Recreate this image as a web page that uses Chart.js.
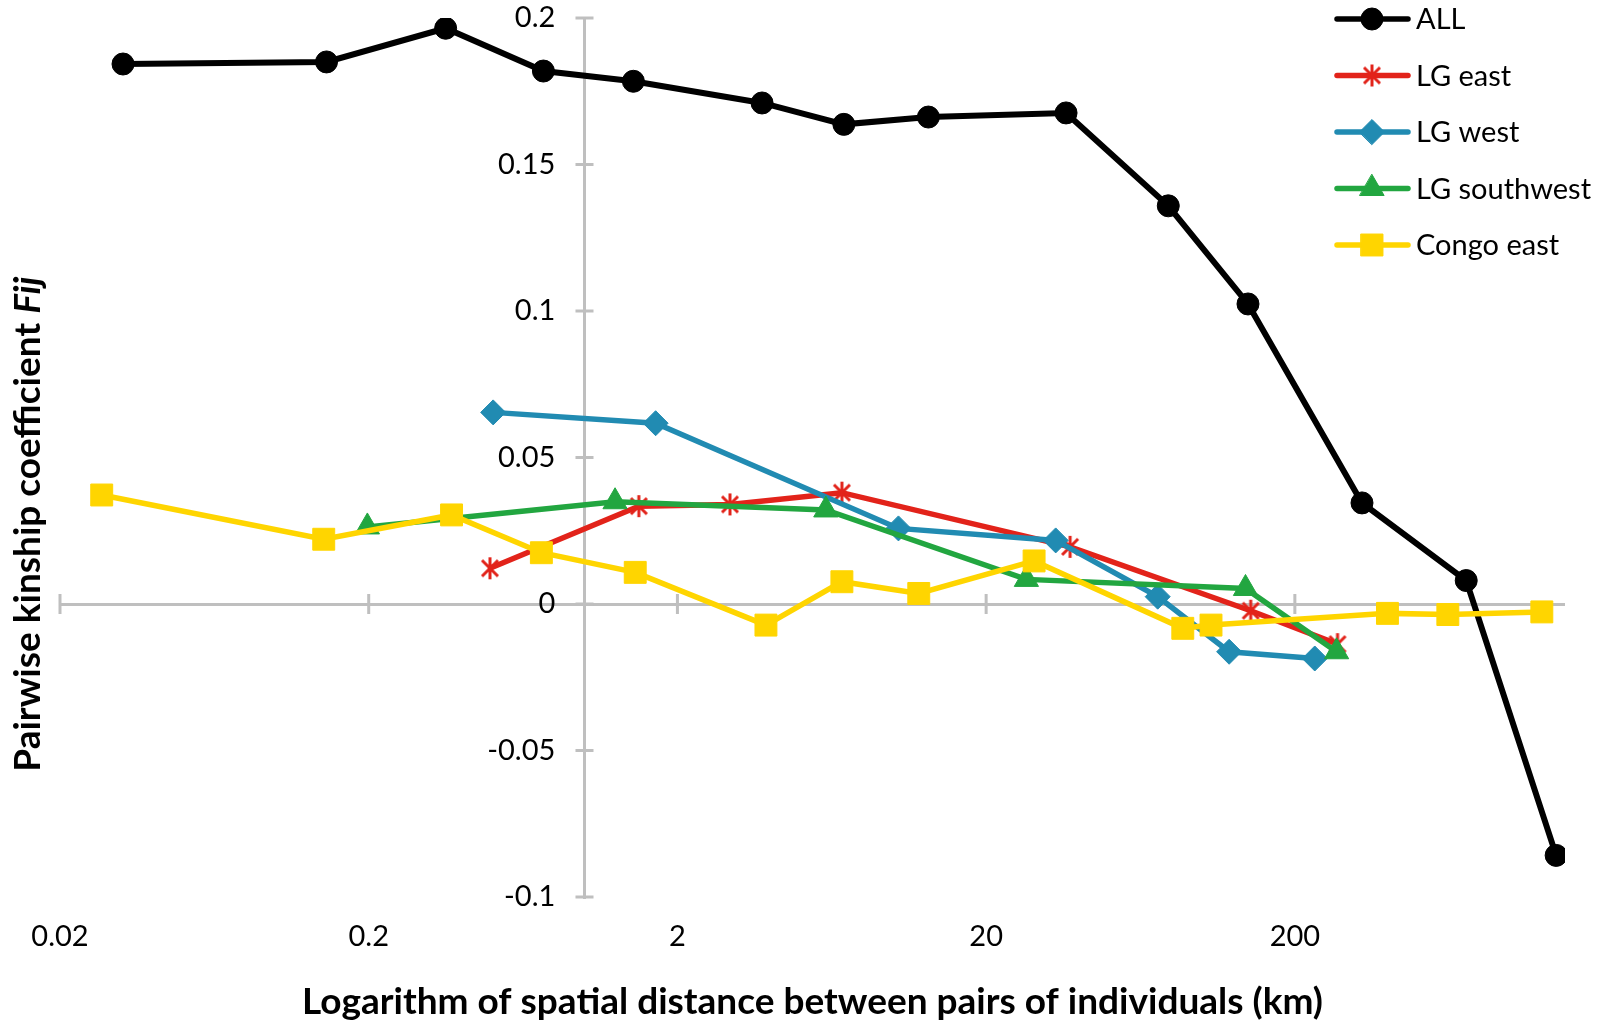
<!DOCTYPE html>
<html>
<head>
<meta charset="utf-8">
<script src="https://cdn.jsdelivr.net/npm/chart.js@4.4.0/dist/chart.umd.min.js"></script>
<style>
  html, body { margin: 0; padding: 0; background: #fff; }
</style>
</head>
<body>
<canvas id="myChart" width="1600" height="1024"></canvas>
<script>
// distance classes (km) and kinship values
const xTickValues = [0.02, 0.2, 2, 20, 200];

const distAll = [0.032, 0.146, 0.355, 0.736, 1.44, 3.76, 6.92, 13.0, 36.3, 77.8, 141, 330, 718, 1404];
const fijAll = [0.1843, 0.185, 0.1965, 0.1819, 0.1784, 0.171, 0.1637, 0.1662, 0.1676, 0.1359, 0.1024, 0.0345, 0.008, -0.0858];

const distEast = [0.494, 1.50, 2.96, 6.82, 37.4, 143.9, 275];
const fijEast = [0.0122, 0.0334, 0.034, 0.038, 0.0195, -0.0023, -0.0137];

const distWest = [0.506, 1.70, 10.4, 33.6, 71.9, 122.5, 232];
const fijWest = [0.0654, 0.0617, 0.0258, 0.0217, 0.0025, -0.0163, -0.0186];

const distSouthwest = [0.198, 1.256, 6.05, 27.0, 138.4, 273];
const fijSouthwest = [0.0263, 0.0349, 0.0321, 0.0084, 0.0053, -0.0163];

const distCongo = [0.0273, 0.143, 0.371, 0.725, 1.46, 3.87, 6.82, 12.1, 28.6, 86.7, 107, 399, 626, 1262];
const fijCongo = [0.0372, 0.0221, 0.0304, 0.0175, 0.0108, -0.0072, 0.0076, 0.0036, 0.0147, -0.0083, -0.0072, -0.0032, -0.0036, -0.0027];

const FONT = 'Lato, "Open Sans", sans-serif';
const AXIS_GREY = '#bfbfbf';

function toPoints(xs, ys) {
    return xs.map((x, i) => ({ x: x, y: ys[i] }));
}

// asterisk marker like the excel one (X + vertical bar)
function makeStar(color) {
    const c = document.createElement('canvas');
    c.width = 24; c.height = 24;
    const g = c.getContext('2d');
    g.strokeStyle = color;
    g.lineWidth = 3;
    g.beginPath();
    g.moveTo(4, 4); g.lineTo(20, 20);
    g.moveTo(20, 4); g.lineTo(4, 20);
    g.moveTo(12, 1); g.lineTo(12, 23);
    g.stroke();
    return c;
}

const series = [
    { label: 'ALL', xs: distAll, ys: fijAll, color: '#000000', style: 'circle', radius: 11, width: 6 },
    { label: 'LG east', xs: distEast, ys: fijEast, color: '#E2231A', style: makeStar('#E2231A'), radius: 10, width: 5.5 },
    { label: 'LG west', xs: distWest, ys: fijWest, color: '#218BB2', style: 'rectRot', radius: 12.5, width: 5.5 },
    { label: 'LG southwest', xs: distSouthwest, ys: fijSouthwest, color: '#22A640', style: 'triangle', radius: 14, width: 5.5 },
    { label: 'Congo east', xs: distCongo, ys: fijCongo, color: '#FFD500', style: 'rect', radius: 15.5, width: 5.5 }
];

// cross-shaped tick marks on both axes
const axisMarks = {
    id: 'axisMarks',
    beforeDatasetsDraw(chart) {
        const ctx = chart.ctx;
        const xs = chart.scales.x, ys = chart.scales.y;
        const x0 = xs.getPixelForValue(1);
        const y0 = ys.getPixelForValue(0);
        ctx.save();
        ctx.strokeStyle = AXIS_GREY;
        ctx.lineWidth = 3;
        ctx.beginPath();
        ys.ticks.forEach(t => {
            const py = ys.getPixelForValue(t.value);
            ctx.moveTo(x0 - 9, py);
            ctx.lineTo(x0 + 9, py);
        });
        xs.ticks.forEach(t => {
            const px = xs.getPixelForValue(t.value);
            ctx.moveTo(px, y0 - 10);
            ctx.lineTo(px, y0 + 10);
        });
        ctx.stroke();
        ctx.restore();
    }
};

// y title with italic Fij, and the excel-like legend top right
const extras = {
    id: 'extras',
    afterDraw(chart) {
        const ctx = chart.ctx;
        ctx.save();
        ctx.translate(28, 524);
        ctx.rotate(-Math.PI / 2);
        ctx.fillStyle = '#000';
        ctx.textBaseline = 'middle';
        ctx.textAlign = 'left';
        const part1 = 'Pairwise kinship coefficient ';
        const part2 = 'Fij';
        ctx.font = 'bold 37px ' + FONT;
        const w1 = ctx.measureText(part1).width;
        ctx.font = 'italic bold 37px ' + FONT;
        const w2 = ctx.measureText(part2).width;
        const sx = -(w1 + w2) / 2;
        ctx.font = 'bold 37px ' + FONT;
        ctx.fillText(part1, sx, 0);
        ctx.font = 'italic bold 37px ' + FONT;
        ctx.fillText(part2, sx + w1, 0);
        ctx.restore();

        ctx.save();
        ctx.font = '29px ' + FONT;
        ctx.textBaseline = 'middle';
        ctx.textAlign = 'left';
        chart.data.datasets.forEach((ds, i) => {
            const y = 19 + i * 56.5;
            ctx.strokeStyle = ds.borderColor;
            ctx.lineWidth = 5.5;
            ctx.lineCap = 'round';
            ctx.beginPath();
            ctx.moveTo(1337, y);
            ctx.lineTo(1408, y);
            ctx.stroke();
            ctx.fillStyle = ds.borderColor;
            ctx.lineWidth = 1;
            Chart.helpers.drawPoint(ctx, {
                pointStyle: ds.pointStyle, rotation: 0,
                radius: ds.pointRadius, borderWidth: 1
            }, 1372, y);
            ctx.fillStyle = '#000';
            ctx.fillText(ds.label, 1416, y + 1);
        });
        ctx.restore();
    }
};

new Chart(document.getElementById('myChart'), {
    type: 'line',
    data: {
        datasets: series.map((s, i) => ({
            label: s.label,
            data: toPoints(s.xs, s.ys),
            borderColor: s.color,
            backgroundColor: s.color,
            borderWidth: s.width,
            pointStyle: s.style,
            pointRadius: s.radius,
            pointBorderWidth: 1,
            pointBackgroundColor: s.color,
            pointBorderColor: s.color,
            tension: 0,
            order: series.length - i
        }))
    },
    options: {
        responsive: false,
        animation: false,
        layout: { padding: { left: 60, right: 35, top: 18, bottom: 0 } },
        plugins: {
            legend: { display: false },
            tooltip: { enabled: false }
        },
        scales: {
            x: {
                type: 'logarithmic',
                position: 'bottom',
                min: 0.02,
                max: 1500,
                bounds: 'data',
                afterBuildTicks: scale => {
                    scale.ticks = xTickValues.map(v => ({ value: v }));
                },
                afterFit: scale => {
                    scale.height = 127;
                    scale.paddingLeft = 0;
                    scale.paddingRight = 0;
                },
                ticks: {
                    autoSkip: false,
                    maxRotation: 0,
                    padding: 22,
                    color: '#000',
                    font: { family: FONT, size: 29 },
                    callback: v => String(v)
                },
                grid: { display: false, drawTicks: false },
                border: { display: false },
                title: {
                    display: true,
                    text: 'Logarithm of spatial distance between pairs of individuals (km)',
                    color: '#000',
                    font: { family: FONT, size: 37, weight: 'bold' },
                    padding: 0
                }
            },
            y: {
                type: 'linear',
                position: { x: 1 },
                min: -0.1,
                max: 0.2,
                afterFit: scale => {
                    scale.paddingTop = 0;
                    scale.paddingBottom = 0;
                },
                ticks: {
                    stepSize: 0.05,
                    color: '#000',
                    font: { family: FONT, size: 29 },
                    // trailing space keeps the labels off the axis line
                    callback: v => String(Math.round(v * 100) / 100) + '\u2003 '
                },
                grid: {
                    color: c => (c.tick && Math.abs(c.tick.value) < 1e-9 ? AXIS_GREY : 'rgba(0,0,0,0)'),
                    lineWidth: 3,
                    drawTicks: false
                },
                border: { color: AXIS_GREY, width: 3 }
            }
        }
    },
    plugins: [axisMarks, extras]
});
</script>
</body>
</html>
